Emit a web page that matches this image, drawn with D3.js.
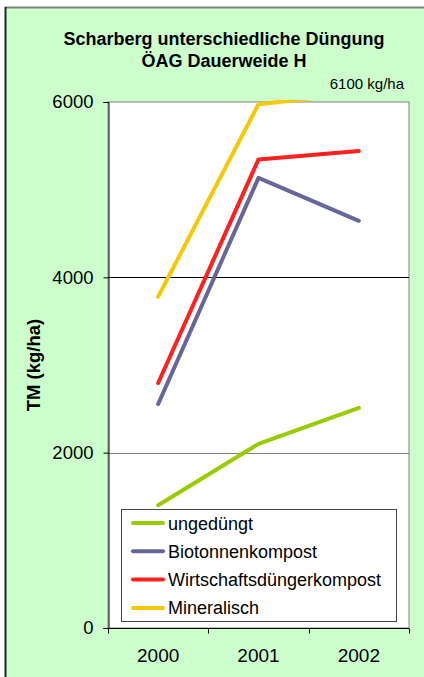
<!DOCTYPE html>
<html><head><meta charset="utf-8">
<script src="https://cdn.jsdelivr.net/npm/d3@7"></script>
<style>
html,body{margin:0;padding:0;background:#fff;}
svg{display:block;font-family:Arial,"Liberation Sans",sans-serif;}
</style></head>
<body>
<svg id="c" width="424" height="677"></svg>
<script>
const years = ["2000", "2001", "2002"];
const seriesNames = ["ungedüngt", "Biotonnenkompost", "Wirtschaftsdüngerkompost", "Mineralisch"];
const ungeduengt = [1400, 2100, 2510];
const biotonnen = [2555, 5135, 4645];
const wirtschaft = [2795, 5345, 5440];
const mineralisch = [3780, 5975, 6100];
const colors = ["#99cc00", "#666699", "#ff2020", "#f5c800"];
const yTicks = [0, 2000, 4000, 6000];
const titleLines = ["Scharberg unterschiedliche Düngung", "ÖAG Dauerweide H"];
const noteText = "6100 kg/ha";
const yTitle = "TM (kg/ha)";

const allSeries = [ungeduengt, biotonnen, wirtschaft, mineralisch];
const svg = d3.select("#c");
const FF = "Arial,'Liberation Sans',sans-serif";

// background + frame
svg.append("rect").attr("x",5.5).attr("y",7).attr("width",430).attr("height",700).attr("fill","#ccffcc");
svg.append("line").attr("x1",5).attr("x2",424).attr("y1",7.5).attr("y2",7.5).attr("stroke","#808080").attr("stroke-width",2);
svg.append("line").attr("x1",5.5).attr("x2",5.5).attr("y1",7).attr("y2",677).attr("stroke","#222").attr("stroke-width",2);

const L = 108, R = 409, T = 102, B = 628;
const x = d3.scaleBand().domain(years).range([L, R]);
const y = d3.scaleLinear().domain([0, 6000]).range([B, T]);

svg.append("rect").attr("x",L).attr("y",T).attr("width",R-L).attr("height",B-T)
  .attr("fill","#fff").attr("stroke","#808080").attr("stroke-width",1);

// gridlines
svg.append("line").attr("x1",L).attr("x2",R).attr("y1",Math.round(y(4000))+0.5).attr("y2",Math.round(y(4000))+0.5).attr("stroke","#000");
svg.append("line").attr("x1",L).attr("x2",R).attr("y1",Math.round(y(2000))+0.5).attr("y2",Math.round(y(2000))+0.5).attr("stroke","#808080");

// clip
svg.append("clipPath").attr("id","clip").append("rect").attr("x",L).attr("y",T-2).attr("width",R-L).attr("height",B-T+2);

const line = d3.line().x((d,i)=>x(years[i])+x.bandwidth()/2).y(d=>y(d));
const g = svg.append("g").attr("clip-path","url(#clip)");
allSeries.forEach((s,i)=>{
  g.append("path").attr("d",line(s)).attr("fill","none").attr("stroke",colors[i])
   .attr("stroke-width",4).attr("stroke-linecap","round").attr("stroke-linejoin","round");
});

// y axis
const yAxis = d3.axisLeft(y).tickValues(yTicks).tickFormat(d3.format("d")).tickSize(5).tickPadding(10);
const ya = svg.append("g").attr("transform",`translate(${L+0.5},0)`).call(yAxis);
ya.select(".domain").attr("stroke","#000");
ya.selectAll(".tick line").attr("stroke","#000");
ya.selectAll("text").attr("font-size",18.5).attr("font-family",FF).attr("fill","#000");

// x axis
const xAxis = d3.axisBottom(x).tickSize(0).tickPadding(20);
const xa = svg.append("g").attr("transform",`translate(0,${B+0.5})`).call(xAxis);
xa.select(".domain").attr("stroke","#000").attr("d",`M${L},0H${R}`);
xa.selectAll("text").attr("font-size",19).attr("font-family",FF).attr("fill","#000").attr("dy","0.71em");
const bounds = years.map(d=>x(d)).concat([R]);
xa.selectAll(".bt").data(bounds).enter().append("line").attr("class","bt")
  .attr("x1",d=>Math.round(d)+0.5).attr("x2",d=>Math.round(d)+0.5).attr("y1",0).attr("y2",5).attr("stroke","#000");

// title
svg.append("text").attr("x",224).attr("y",45).attr("text-anchor","middle").attr("font-weight","bold").attr("font-size",18).text(titleLines[0]);
svg.append("text").attr("x",224).attr("y",67).attr("text-anchor","middle").attr("font-weight","bold").attr("font-size",18).text(titleLines[1]);
svg.append("text").attr("x",404).attr("y",89).attr("text-anchor","end").attr("font-size",15).text(noteText);

// y title
svg.append("text").attr("transform","translate(40,365) rotate(-90)").attr("text-anchor","middle")
  .attr("font-weight","bold").attr("font-size",18.5).text(yTitle);

// legend
const lg = svg.append("g");
lg.append("rect").attr("x",121.5).attr("y",509.5).attr("width",275).attr("height",112).attr("fill","#fff").attr("stroke","#444").attr("stroke-width",1);
seriesNames.forEach((n,i)=>{
  const yy = 523 + i*28.3;
  lg.append("line").attr("x1",133).attr("x2",163).attr("y1",yy).attr("y2",yy).attr("stroke",colors[i]).attr("stroke-width",4).attr("stroke-linecap","round");
  lg.append("text").attr("x",168).attr("y",yy+6.5).attr("font-size",18).text(n);
});
</script>
</body></html>
